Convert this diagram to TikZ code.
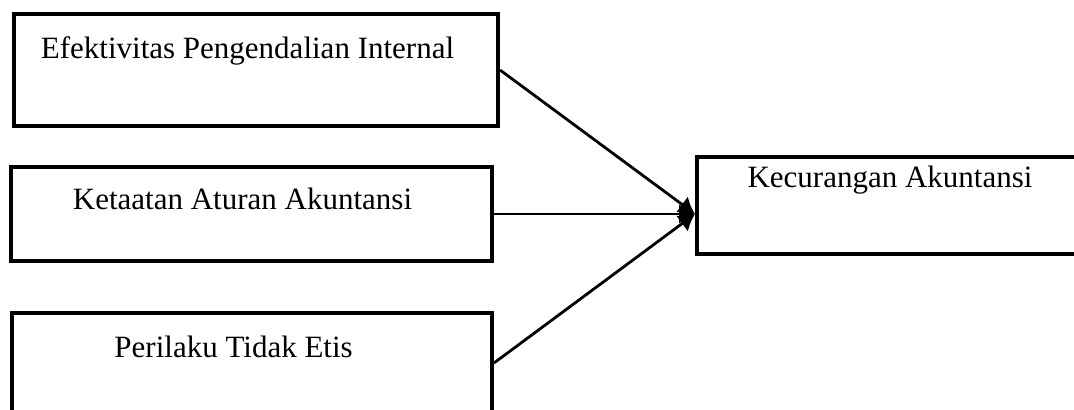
\documentclass[tikz,border=0pt]{standalone}
\usepackage{fontspec}
\setmainfont{Liberation Serif}
\usetikzlibrary{arrows.meta}

\tikzset{
  varbox/.style={draw, line width=2pt, inner sep=0pt},
  lbl/.style={font=\fontsize{15.5}{18}\selectfont, anchor=base, inner sep=0pt},
  link/.style={line width=1.4pt, -{Latex[length=8pt,width=10pt]}}
}

\begin{document}
\begin{tikzpicture}[x=0.5pt, y=-0.5pt]
        \useasboundingbox (0,0) rectangle (1074,410);
        \clip (0,0) rectangle (1074,410);

        % boxes
        \node[varbox, minimum width=242pt, minimum height=56pt] (efek) at (256,70) {};
        \node[varbox, minimum width=240.5pt, minimum height=47pt] (ketaatan) at (251.5,214) {};
        \node[varbox, minimum width=240pt, minimum height=50pt] (perilaku) at (252,363) {};
        \node[varbox, minimum width=191.5pt, minimum height=48.5pt] (kecurangan) at (888.5,205.5) {};

        % labels
        \node[lbl] (efektxt) at (247.5,59) {Efektivitas Pengendalian Internal};
        \node[lbl] (ketaatantxt) at (242.5,210) {Ketaatan Aturan Akuntansi};
        \node[lbl] (perilakutxt) at (233.6,358) {Perilaku Tidak Etis};
        \node[lbl] (kecurangantxt) at (890,188) {Kecurangan Akuntansi};

        % arrows
        \coordinate (tip) at (ketaatan.east -| kecurangan.west);
        \draw[link] (efek.east) -- (tip);
        \draw[link] (ketaatan.east) -- (tip);
        \draw[link] (perilaku.east) -- (tip);
\end{tikzpicture}
\end{document}
